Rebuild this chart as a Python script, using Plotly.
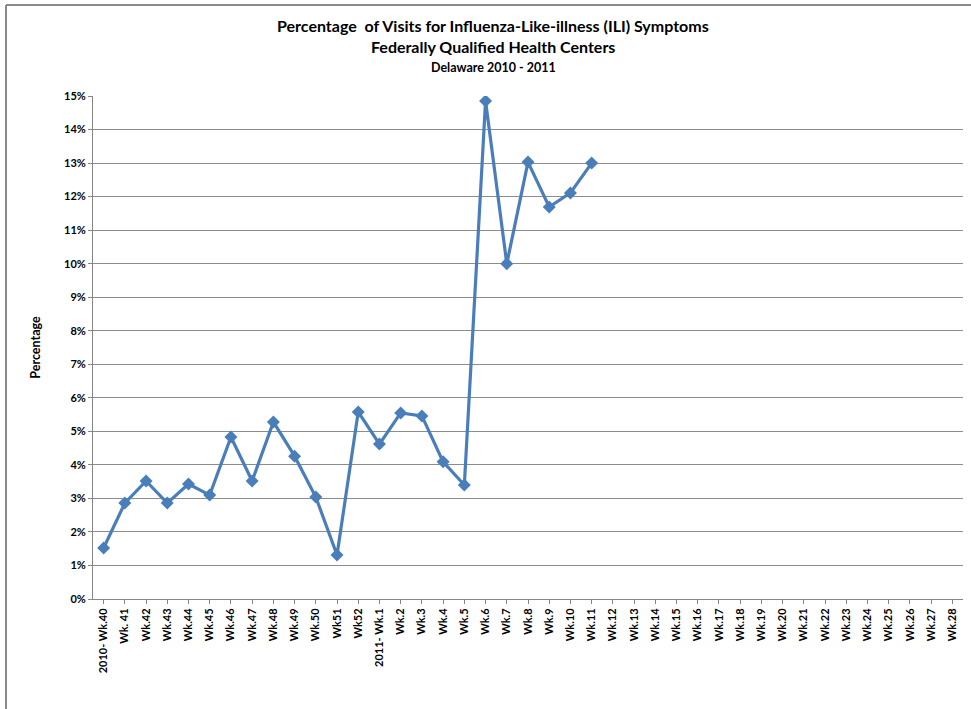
import plotly.graph_objects as go

weeks = (
    ["2010- Wk.40", "Wk. 41", "Wk.42", "Wk.43", "Wk.44", "Wk.45", "Wk.46", "Wk.47",
     "Wk.48", "Wk.49", "Wk.50", "Wk51", "Wk52", "2011- Wk.1"]
    + [f"Wk.{i}" for i in range(2, 29)]
)
ili_pct = [1.52, 2.86, 3.52, 2.86, 3.43, 3.10, 4.83, 3.52, 5.28, 4.26, 3.04, 1.31,
           5.58, 4.62, 5.55, 5.46, 4.09, 3.40, 14.85, 10.0, 13.03, 11.69, 12.11, 13.0]

FONT = "Lato, 'Open Sans', sans-serif"
BLUE = "#4A7EBB"

# plot area in pixels (from the reference)
L, R, T, B = 93, 963, 96, 599
W, H = 971, 709
PW, PH = R - L, B - T


def px_x(x):
    return (x - L) / PW


def px_y(y):
    return (B - y) / PH


fig = go.Figure(go.Scatter(
    x=weeks[:len(ili_pct)],
    y=ili_pct,
    mode="lines+markers",
    line=dict(color=BLUE, width=3.2),
    marker=dict(symbol="diamond", size=10, color=BLUE),
    showlegend=False,
))

fig.update_layout(
    width=W,
    height=H,
    paper_bgcolor="white",
    plot_bgcolor="white",
    margin=dict(l=L, r=W - R, t=T, b=H - B, autoexpand=False),
    font=dict(family=FONT, color="black"),
    xaxis=dict(
        type="category",
        categoryorder="array",
        categoryarray=weeks,
        range=[-0.5, len(weeks) - 0.5],
        tickangle=-90,
        tickfont=dict(size=11, family=FONT, weight="bold"),
        showgrid=False,
        showline=True,
        linecolor="#868686",
        ticks="outside",
        ticklen=4,
        tickcolor="#868686",
    ),
    yaxis=dict(
        range=[0, 15],
        dtick=1,
        ticksuffix="%",
        tickfont=dict(size=11, family=FONT, weight="bold"),
        showgrid=True,
        gridcolor="#8c8c8c",
        gridwidth=1,
        showline=True,
        linecolor="#868686",
        ticks="outside",
        ticklen=4,
        tickcolor="#868686",
        zeroline=False,
        title=dict(text="Percentage", font=dict(size=12.5, family=FONT, weight="bold"), standoff=20),
    ),
    shapes=[
        # outer chart border: top and left edges
        dict(type="line", xref="paper", yref="paper",
             x0=px_x(6), x1=px_x(W), y0=px_y(5), y1=px_y(5),
             line=dict(color="#8a8a8a", width=2)),
        dict(type="line", xref="paper", yref="paper",
             x0=px_x(6), x1=px_x(6), y0=px_y(5), y1=px_y(H),
             line=dict(color="#8a8a8a", width=2)),
    ],
)

title_lines = [
    ("<b>Percentage  of Visits for Influenza-Like-illness (ILI) Symptoms</b>", 25, 16),
    ("<b>Federally Qualified Health Centers</b>", 46, 16),
    ("<b>Delaware 2010 - 2011</b>", 68, 12.5),
]
for text, py, size in title_lines:
    fig.add_annotation(text=text, xref="paper", yref="paper",
                       x=px_x(493), y=px_y(py), xanchor="center", yanchor="middle",
                       showarrow=False, font=dict(size=size, family=FONT, color="black"))

fig.write_html("out.html", config={"displayModeBar": False},
               post_script="document.body.style.margin='0';")
